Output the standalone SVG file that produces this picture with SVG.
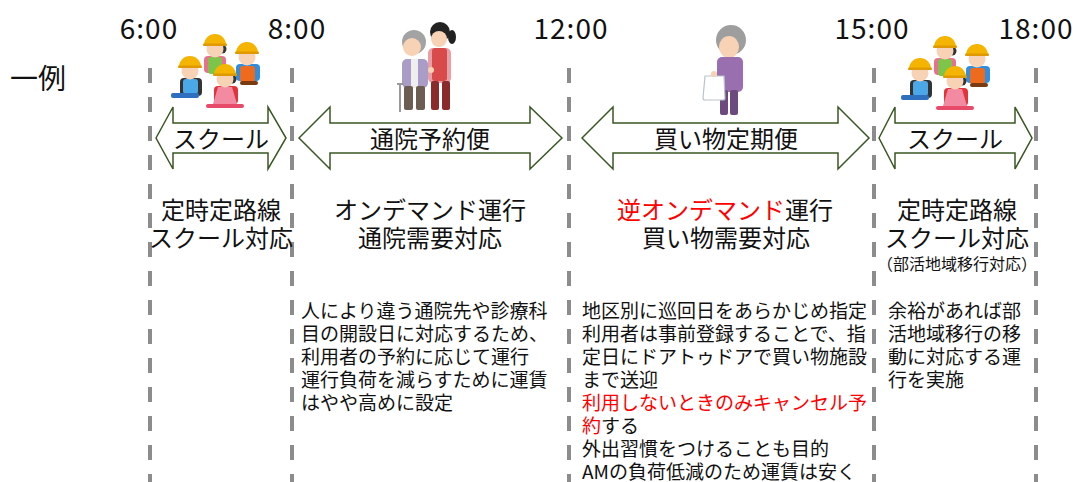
<svg xmlns="http://www.w3.org/2000/svg" width="1077" height="482" viewBox="0 0 1077 482">
  <style>
    text { font-family: "Noto Sans CJK JP", "Noto Sans", sans-serif; fill: #111; }
    .time { font-size: 28px; text-anchor: middle; letter-spacing: 1px; }
    .head { font-size: 28px; }
    .band { font-size: 24px; text-anchor: middle; }
    .title { font-size: 24px; text-anchor: middle; }
    .note { font-size: 16px; text-anchor: middle; }
    .body { font-size: 19px; }
    .red { fill: #ff0000; }
    .guide { stroke: #8c8c8c; stroke-width: 4; stroke-dasharray: 15 14; fill: none; }
    .span { fill: #ffffff; stroke: #385723; stroke-width: 1.5; stroke-linejoin: miter; }
    .skin { fill: #f7d2b4; }
    .helmet { fill: #f5b400; }
    .brim { fill: #e09a00; }
  </style>
  <defs>
    <!-- group of four schoolchildren with yellow helmets -->
    <g id="kids">
      <!-- back child: green shirt, pink backpack -->
      <rect x="204" y="56" width="22" height="17" rx="4" fill="#e9708f"/>
      <rect x="208" y="57" width="14" height="17" rx="3" fill="#7cc44a"/>
      <circle cx="222" cy="49" r="4.5" fill="#333"/>
      <circle cx="215" cy="49" r="8.5" class="skin"/>
      <path d="M204 45 a11 11 0 0 1 22 0 z" class="helmet"/>
      <rect x="203" y="43.5" width="24" height="2.5" rx="1" class="brim"/>
      <!-- right child: orange shirt, blue backpack -->
      <rect x="236" y="64" width="24" height="17" rx="4" fill="#2f8ee0"/>
      <rect x="240" y="66" width="15" height="16" rx="3" fill="#ee6a1c"/>
      <rect x="240" y="81" width="18" height="4" rx="2" fill="#7a3a12"/>
      <circle cx="247" cy="57" r="8.5" class="skin"/>
      <path d="M236 53 a11 11 0 0 1 22 0 z" class="helmet"/>
      <rect x="235" y="51.5" width="24" height="2.5" rx="1" class="brim"/>
      <!-- left child: blue shirt, black backpack -->
      <rect x="180" y="78" width="22" height="18" rx="4" fill="#333"/>
      <rect x="183" y="79" width="15" height="15" rx="3" fill="#4aa8e8"/>
      <rect x="171" y="93" width="28" height="5" rx="2" fill="#2f6fc0"/>
      <circle cx="190" cy="71" r="8.5" class="skin"/>
      <path d="M179 67 a11 11 0 0 1 22 0 z" class="helmet"/>
      <rect x="178" y="65.5" width="24" height="2.5" rx="1" class="brim"/>
      <!-- front child: pink dress, red backpack -->
      <rect x="214" y="86" width="24" height="18" rx="4" fill="#e2333b"/>
      <path d="M218 87 h14 l5 17 h-24 z" fill="#f28aa2"/>
      <rect x="206" y="104" width="38" height="4" rx="2" fill="#e84a6a"/>
      <circle cx="232" cy="79" r="4.5" fill="#333"/>
      <circle cx="225" cy="79" r="8.5" class="skin"/>
      <path d="M214 75 a11 11 0 0 1 22 0 z" class="helmet"/>
      <rect x="213" y="73.5" width="24" height="2.5" rx="1" class="brim"/>
    </g>
  </defs>

  <rect width="1077" height="482" fill="#ffffff"/>

  <!-- time axis -->
  <g id="times">
    <text class="time" x="149" y="39">6:00</text>
    <text class="time" x="297" y="39">8:00</text>
    <text class="time" x="571" y="39">12:00</text>
    <text class="time" x="872" y="39">15:00</text>
    <text class="time" x="1036" y="39">18:00</text>
  </g>
  <text class="head" x="10" y="89">一例</text>

  <!-- dashed time guides -->
  <g id="connectors">
    <line class="guide" x1="150" y1="68" x2="150" y2="482"/>
    <line class="guide" x1="292" y1="68" x2="292" y2="482"/>
    <line class="guide" x1="569" y1="68" x2="569" y2="482"/>
    <line class="guide" x1="874" y1="68" x2="874" y2="482"/>
    <line class="guide" x1="1036" y1="68" x2="1036" y2="482"/>
  </g>

  <!-- illustrations -->
  <g id="kids-morning"><use href="#kids"/></g>
  <g id="kids-evening"><use href="#kids" transform="translate(730,2)"/></g>

  <g id="hospital-pair">
    <!-- caregiver -->
    <ellipse cx="452" cy="37" rx="4" ry="7" fill="#222"/>
    <circle cx="440" cy="32" r="10" fill="#222"/>
    <circle cx="439" cy="39" r="8" class="skin"/>
    <rect x="428" y="48" width="23" height="35" rx="5" fill="#e8a0a8"/>
    <rect x="432" y="48" width="15" height="33" rx="3" fill="#d94a4a"/>
    <rect x="431" y="81" width="8" height="29" rx="2" fill="#8b2a2a"/>
    <rect x="442" y="81" width="8" height="29" rx="2" fill="#8b2a2a"/>
    <!-- elderly woman with cane -->
    <circle cx="414" cy="42" r="12" fill="#a3a3a3"/>
    <circle cx="412" cy="47" r="9" class="skin"/>
    <rect x="402" y="59" width="26" height="29" rx="5" fill="#a99cc6"/>
    <rect x="411" y="59" width="7" height="29" fill="#eeeeee"/>
    <rect x="404" y="86" width="9" height="24" rx="2" fill="#6b5d52"/>
    <rect x="416" y="86" width="9" height="24" rx="2" fill="#6b5d52"/>
    <line x1="400" y1="84" x2="400" y2="112" stroke="#9a9a9a" stroke-width="2"/>
    <path d="M397 84 h7" stroke="#9a9a9a" stroke-width="2"/>
    <circle cx="431" cy="70" r="3" class="skin"/>
  </g>

  <g id="shopper">
    <circle cx="731" cy="40" r="15" fill="#9e9e9e"/>
    <ellipse cx="729" cy="47" rx="10" ry="11" class="skin"/>
    <rect x="717" y="57" width="26" height="35" rx="5" fill="#9a6fb0"/>
    <rect x="720" y="90" width="8" height="25" rx="2" fill="#6d4a7e"/>
    <rect x="730" y="90" width="8" height="25" rx="2" fill="#6d4a7e"/>
    <path d="M705 76 h19 l1 22 q0 2 -2 2 h-18 q-2 0 -2 -2 z" fill="#ffffff" stroke="#b8c4cc" stroke-width="1.2"/>
    <circle cx="714" cy="74" r="3" class="skin"/>
  </g>

  <!-- service spans -->
  <g id="span-school-am">
    <polygon class="span" points="156,138 173,107 173,123 268,123 268,107 286,138 268,169 268,153 173,153 173,169"/>
    <text class="band" x="221" y="148">スクール</text>
  </g>
  <g id="span-hospital">
    <polygon class="span" points="299,138 330,107 330,123 530,123 530,107 562,138 530,169 530,153 330,153 330,169"/>
    <text class="band" x="430" y="148">通院予約便</text>
  </g>
  <g id="span-shopping">
    <polygon class="span" points="582,138 613,107 613,123 838,123 838,107 869,138 838,169 838,153 613,153 613,169"/>
    <text class="band" x="726" y="148">買い物定期便</text>
  </g>
  <g id="span-school-pm">
    <polygon class="span" points="879,138 895,107 895,123 1015,123 1015,107 1032,138 1015,169 1015,153 895,153 895,169"/>
    <text class="band" x="955" y="148">スクール</text>
  </g>

  <!-- service type headings -->
  <g id="type-school-am">
    <text class="title" x="221" y="219">定時定路線</text>
    <text class="title" x="221" y="247">スクール対応</text>
  </g>
  <g id="type-hospital">
    <text class="title" x="430" y="219">オンデマンド運行</text>
    <text class="title" x="430" y="247">通院需要対応</text>
  </g>
  <g id="type-shopping">
    <text class="title" x="725" y="219"><tspan class="red">逆オンデマンド</tspan>運行</text>
    <text class="title" x="726" y="247">買い物需要対応</text>
  </g>
  <g id="type-school-pm">
    <text class="title" x="957" y="219">定時定路線</text>
    <text class="title" x="957" y="247">スクール対応</text>
    <text class="note" x="957" y="270">（部活地域移行対応）</text>
  </g>

  <!-- descriptions -->
  <g id="desc-hospital">
    <text class="body" x="301" y="318">人により違う通院先や診療科</text>
    <text class="body" x="301" y="341">目の開設日に対応するため、</text>
    <text class="body" x="301" y="364">利用者の予約に応じて運行</text>
    <text class="body" x="301" y="387">運行負荷を減らすために運賃</text>
    <text class="body" x="301" y="410">はやや高めに設定</text>
  </g>
  <g id="desc-shopping">
    <text class="body" x="582" y="318">地区別に巡回日をあらかじめ指定</text>
    <text class="body" x="582" y="341">利用者は事前登録することで、指</text>
    <text class="body" x="582" y="364">定日にドアトゥドアで買い物施設</text>
    <text class="body" x="582" y="387">まで送迎</text>
    <text class="body red" x="582" y="410">利用しないときのみキャンセル予</text>
    <text class="body" x="582" y="433"><tspan class="red">約</tspan>する</text>
    <text class="body" x="582" y="456">外出習慣をつけることも目的</text>
    <text class="body" x="582" y="479">AMの負荷低減のため運賃は安く</text>
  </g>
  <g id="desc-school-pm">
    <text class="body" x="888" y="318">余裕があれば部</text>
    <text class="body" x="888" y="341">活地域移行の移</text>
    <text class="body" x="888" y="364">動に対応する運</text>
    <text class="body" x="888" y="387">行を実施</text>
  </g>
</svg>
